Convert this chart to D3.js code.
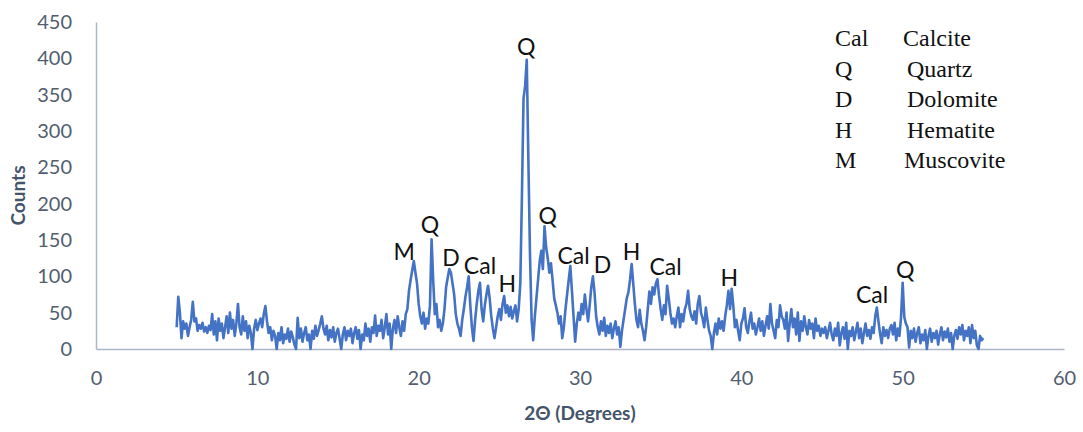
<!DOCTYPE html>
<html>
<head>
<meta charset="utf-8">
<script src="https://cdn.jsdelivr.net/npm/d3@7"></script>
<style>
  body { margin: 0; background: #fff; }
  svg { display: block; }
</style>
</head>
<body>
<div id="chart"></div>
<script>
// 2θ start and step of the scan
const scanStart = 5.0;
const scanStep = 0.1;

// counts, one row per degree (x.0 .. x.9)
const counts = [
  /* 5 */ 30, 72, 50, 15, 38, 28, 35, 18, 30, 40,
  /* 6 */ 65, 38, 42, 25, 33, 28, 36, 24, 30, 22,
  /* 7 */ 32, 26, 48, 20, 38, 12, 42, 25, 35, 15,
  /* 8 */ 30, 45, 22, 50, 28, 40, 18, 35, 62, 30,
  /* 9 */ 20, 45, 25, 38, 15, 32, 22, 0, 28, 40,
  /* 10 */ 26, 35, 42, 30, 48, 59, 38, 22, 30, 12,
  /* 11 */ 25, 18, 0, 22, 12, 30, 8, 20, 14, 28,
  /* 12 */ 10, 24, 16, 6, 0, 43, 15, 28, 10, 22,
  /* 13 */ 30, 12, 20, 0, 25, 14, 32, 18, 26, 35,
  /* 14 */ 45, 28, 20, 32, 12, 26, 16, 30, 10, 22,
  /* 15 */ 28, 14, 0, 20, 30, 12, 25, 18, 28, 8,
  /* 16 */ 22, 30, 14, 26, 0, 20, 12, 35, 18, 28,
  /* 17 */ 10, 30, 22, 46, 18, 32, 25, 40, 15, 30,
  /* 18 */ 48, 20, 35, 0, 28, 40, 22, 45, 30, 18,
  /* 19 */ 38, 25, 48, 55, 80, 95, 108, 121, 105, 90,
  /* 20 */ 62, 45, 35, 50, 28, 42, 35, 60, 151, 95,
  /* 21 */ 48, 62, 30, 40, 25, 35, 55, 85, 98, 110,
  /* 22 */ 105, 90, 75, 48, 35, 28, 18, 40, 55, 72,
  /* 23 */ 85, 100, 60, 30, 11, 40, 62, 80, 91, 55,
  /* 24 */ 38, 60, 75, 87, 70, 45, 28, 15, 30, 45,
  /* 25 */ 55, 40, 62, 73, 50, 60, 45, 58, 42, 52,
  /* 26 */ 60, 38, 55, 90, 210, 345, 362, 398, 260, 130,
  /* 27 */ 40, 12, 45, 70, 95, 120, 135, 110, 169, 140,
  /* 28 */ 125, 105, 118, 95, 70, 60, 50, 35, 45, 15,
  /* 29 */ 30, 55, 75, 95, 114, 80, 45, 10, 35, 50,
  /* 30 */ 40, 62, 48, 75, 55, 38, 60, 85, 100, 78,
  /* 31 */ 45, 30, 20, 38, 25, 43, 18, 32, 22, 35,
  /* 32 */ 15, 28, 38, 20, 30, 3, 25, 40, 55, 70,
  /* 33 */ 78, 95, 117, 90, 62, 40, 30, 54, 35, 25,
  /* 34 */ 12, 30, 55, 79, 62, 85, 75, 90, 96, 73,
  /* 35 */ 55, 40, 60, 48, 87, 70, 50, 35, 42, 30,
  /* 36 */ 45, 57, 30, 48, 38, 55, 62, 80, 55, 45,
  /* 37 */ 40, 52, 35, 62, 73, 50, 42, 30, 57, 40,
  /* 38 */ 25, 18, 0, 22, 35, 20, 42, 28, 38, 25,
  /* 39 */ 45, 60, 80, 55, 83, 60, 30, 40, 25, 12,
  /* 40 */ 35, 42, 56, 30, 22, 38, 50, 28, 35, 20,
  /* 41 */ 30, 42, 25, 38, 18, 32, 45, 28, 62, 35,
  /* 42 */ 25, 15, 40, 30, 60, 45, 40, 28, 50, 11,
  /* 43 */ 35, 55, 30, 42, 20, 50, 11, 38, 25, 45,
  /* 44 */ 30, 20, 40, 28, 35, 15, 42, 25, 32, 18,
  /* 45 */ 28, 22, 30, 15, 25, 36, 20, 12, 28, 18,
  /* 46 */ 36, 5, 22, 30, 14, 36, 0, 25, 18, 30,
  /* 47 */ 12, 24, 36, 15, 28, 8, 22, 35, 18, 26,
  /* 48 */ 14, 30, 22, 45, 57, 38, 21, 8, 30, 18,
  /* 49 */ 26, 15, 28, 33, 20, 36, 12, 28, 18, 44,
  /* 50 */ 91, 44, 35, 30, 2, 25, 15, 28, 10, 22,
  /* 51 */ 30, 8, 20, 12, 26, 0, 18, 28, 10, 22,
  /* 52 */ 15, 25, 6, 20, 30, 12, 24, 16, 28, 10,
  /* 53 */ 22, 0, 18, 26, 14, 30, 20, 33, 12, 25,
  /* 54 */ 18, 30, 8, 33, 15, 25, 5, 0, 18, 12,
  /* 55 */ 15
];

const xTicks = [0, 10, 20, 30, 40, 50, 60];
const yTicks = [0, 50, 100, 150, 200, 250, 300, 350, 400, 450];

// phase labels at the peaks, placed in data units (2θ, counts)
const peakLabels = ['Q', 'M', 'Q', 'D', 'Cal', 'H', 'Q', 'Cal', 'D', 'H', 'Cal', 'H', 'Cal', 'Q'];
const peakTheta = [26.66, 19.1, 20.7, 22.0, 23.8, 25.5, 28.0, 29.6, 31.4, 33.2, 35.3, 39.25, 48.1, 50.15];
const peakCount = [417, 135, 172, 127, 115, 91, 185, 130, 117, 135, 114, 99, 76, 110];

const legendCodes = ['Cal', 'Q', 'D', 'H', 'M'];
const legendNames = ['Calcite', 'Quartz', 'Dolomite', 'Hematite', 'Muscovite'];

const width = 1083;
const height = 432;
const margin = { top: 22, right: 19, bottom: 83, left: 96 };

const svg = d3.select('#chart')
  .append('svg')
  .attr('width', width)
  .attr('height', height);

const x = d3.scaleLinear().domain([0, 60]).range([margin.left, width - margin.right]);
const y = d3.scaleLinear().domain([0, 450]).range([height - margin.bottom, margin.top]);

const axisColor = '#aab5c6';
const tickColor = '#525e70';

// y axis
const yAxis = svg.append('g')
  .attr('transform', `translate(${margin.left},0)`)
  .call(d3.axisLeft(y).tickValues(yTicks).tickSize(0).tickPadding(24));
yAxis.select('.domain').attr('stroke', axisColor).attr('stroke-width', 1.5);
yAxis.selectAll('text')
  .attr('fill', tickColor)
  .style('font-family', 'Lato, sans-serif')
  .style('font-size', '20px');

// x axis
const xAxis = svg.append('g')
  .attr('transform', `translate(0,${height - margin.bottom})`)
  .call(d3.axisBottom(x).tickValues(xTicks).tickSize(0).tickPadding(22));
xAxis.select('.domain').attr('stroke', axisColor).attr('stroke-width', 1.5);
xAxis.selectAll('text')
  .attr('fill', tickColor)
  .style('font-family', 'Lato, sans-serif')
  .style('font-size', '20px');

// axis titles
svg.append('text')
  .attr('transform', `translate(25,${(y(0) + y(450)) / 2 + 10}) rotate(-90)`)
  .attr('text-anchor', 'middle')
  .attr('fill', '#44546a')
  .style('font-family', 'Lato, sans-serif')
  .style('font-weight', 'bold')
  .style('font-size', '19px')
  .text('Counts');

svg.append('text')
  .attr('x', (x(0) + x(60)) / 2)
  .attr('y', 420)
  .attr('text-anchor', 'middle')
  .attr('fill', '#44546a')
  .style('font-family', 'Lato, sans-serif')
  .style('font-weight', 'bold')
  .style('font-size', '19px')
  .text('2Θ (Degrees)');

// pattern
const pts = counts.map((c, i) => [scanStart + i * scanStep, c]);
const line = d3.line()
  .x((d) => x(d[0]))
  .y((d) => y(d[1]));

svg.append('path')
  .datum(pts)
  .attr('fill', 'none')
  .attr('stroke', '#4472c4')
  .attr('stroke-width', 2.6)
  .attr('stroke-linejoin', 'round')
  .attr('d', line);

// peak labels
svg.append('g')
  .selectAll('text')
  .data(peakLabels)
  .join('text')
  .attr('x', (d, i) => x(peakTheta[i]))
  .attr('y', (d, i) => y(peakCount[i]))
  .attr('text-anchor', 'middle')
  .attr('dominant-baseline', 'central')
  .attr('fill', '#111')
  .style('font-family', 'Lato, sans-serif')
  .style('font-size', '23px')
  .text((d) => d);

// legend (code + phase name)
const legend = svg.append('g')
  .style('font-family', '"Liberation Serif", "Times New Roman", serif')
  .style('font-size', '24px')
  .attr('fill', '#111');

legend.selectAll('text.code')
  .data(legendCodes)
  .join('text')
  .attr('class', 'code')
  .attr('x', 835)
  .attr('y', (d, i) => 46 + i * 30.5)
  .text((d) => d);

legend.selectAll('text.name')
  .data(legendNames)
  .join('text')
  .attr('class', 'name')
  .attr('x', (d, i) => (i === 0 ? 903 : i === 4 ? 904 : 907))
  .attr('y', (d, i) => 46 + i * 30.5)
  .text((d) => d);
</script>
</body>
</html>
